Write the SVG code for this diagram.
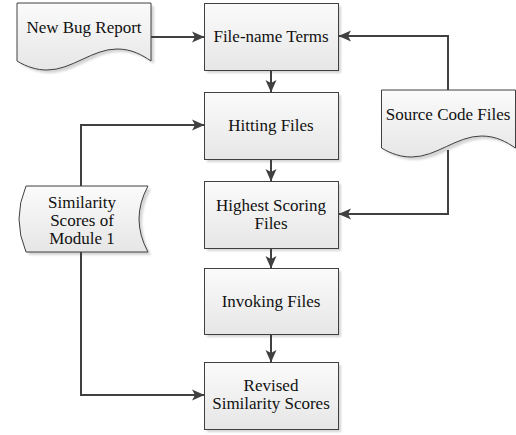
<svg xmlns="http://www.w3.org/2000/svg" xmlns:xlink="http://www.w3.org/1999/xlink" width="516" height="435" viewBox="0 0 516 435">
  <style>
    .shape { fill: url(#fillGrad); stroke: #404040; stroke-width: 1; }
    .shadow { fill: #d4d4d4; stroke: none; filter: url(#soft); }
    .label { fill: #111; text-anchor: middle; }
    .conn { fill: none; stroke: #404040; stroke-width: 2; marker-end: url(#arrow); }
  </style>
  <defs>
    <linearGradient id="fillGrad" x1="0" y1="0" x2="0" y2="1">
      <stop offset="0" stop-color="#fbfbfb"/>
      <stop offset="1" stop-color="#e6e6e6"/>
    </linearGradient>
    <filter id="soft" x="-10%" y="-10%" width="120%" height="120%">
      <feGaussianBlur stdDeviation="0.8"/>
    </filter>
    <marker id="arrow" markerUnits="userSpaceOnUse" markerWidth="13" markerHeight="12" viewBox="0 0 13 12" refX="12" refY="6" orient="auto">
      <path d="M0,0.5 L12.5,6 L0,11.5 L3,6 Z" fill="#404040"/>
    </marker>
    <!-- document outline with a wavy bottom edge, 134 wide -->
    <path id="doc" d="M0,0 H134 V58 C125,52 115,46 100,46 C75,46 55,67 30,67 C20,67 10,64 0,58 Z"/>
    <!-- stored-data outline -->
    <path id="store" d="M26,186 H148 Q130,219 148,252 H26 Q12,219 26,186 Z"/>
  </defs>

  <!-- input documents -->
  <g id="new-bug-report">
    <use xlink:href="#doc" class="shadow" transform="translate(20,6)"/>
    <use xlink:href="#doc" class="shape" transform="translate(17,3)"/>
    <text class="label" x="84" y="33" style="font-family:'Liberation Serif',serif;font-size:17px">New Bug Report</text>
  </g>

  <g id="source-code-files">
    <use xlink:href="#doc" class="shadow" transform="translate(385,93)"/>
    <use xlink:href="#doc" class="shape" transform="translate(381.5,90)"/>
    <text class="label" x="448" y="120" style="font-family:'Liberation Serif',serif;font-size:17px">Source Code Files</text>
  </g>

  <g id="similarity-scores-module-1">
    <use xlink:href="#store" class="shadow" transform="translate(3,3)"/>
    <use xlink:href="#store" class="shape"/>
    <text class="label" x="82" y="208" style="font-family:'Liberation Serif',serif;font-size:17px">Similarity</text>
    <text class="label" x="82" y="226" style="font-family:'Liberation Serif',serif;font-size:17px">Scores of</text>
    <text class="label" x="82" y="244" style="font-family:'Liberation Serif',serif;font-size:17px">Module 1</text>
  </g>

  <!-- processing steps -->
  <g id="file-name-terms">
    <rect class="shadow" x="207" y="6" width="134" height="67"/>
    <rect class="shape" x="204.5" y="3.5" width="134" height="67"/>
    <text class="label" x="271" y="42" style="font-family:'Liberation Serif',serif;font-size:17px">File-name Terms</text>
  </g>

  <g id="hitting-files">
    <rect class="shadow" x="207" y="95" width="134" height="67"/>
    <rect class="shape" x="204.5" y="92.5" width="134" height="67"/>
    <text class="label" x="271" y="131" style="font-family:'Liberation Serif',serif;font-size:17px">Hitting Files</text>
  </g>

  <g id="highest-scoring-files">
    <rect class="shadow" x="207" y="184" width="134" height="67"/>
    <rect class="shape" x="204.5" y="181.5" width="134" height="67"/>
    <text class="label" x="271" y="211" style="font-family:'Liberation Serif',serif;font-size:17px">Highest Scoring</text>
    <text class="label" x="271" y="229" style="font-family:'Liberation Serif',serif;font-size:17px">Files</text>
  </g>

  <g id="invoking-files">
    <rect class="shadow" x="207" y="271" width="134" height="66"/>
    <rect class="shape" x="204.5" y="268.5" width="134" height="66"/>
    <text class="label" x="271" y="307" style="font-family:'Liberation Serif',serif;font-size:17px">Invoking Files</text>
  </g>

  <g id="revised-similarity-scores">
    <rect class="shadow" x="207" y="365" width="134" height="67"/>
    <rect class="shape" x="204.5" y="362.5" width="134" height="67"/>
    <text class="label" x="271" y="391" style="font-family:'Liberation Serif',serif;font-size:17px">Revised</text>
    <text class="label" x="271" y="409" style="font-family:'Liberation Serif',serif;font-size:17px">Similarity Scores</text>
  </g>

  <g id="connectors">
    <path class="conn" d="M151,37 H204"/>
    <path class="conn" d="M271,71 V92"/>
    <path class="conn" d="M271,160 V181"/>
    <path class="conn" d="M271,249 V268"/>
    <path class="conn" d="M271,335 V362"/>
    <path class="conn" d="M448,90 V36 H339"/>
    <path class="conn" d="M448,150 V214 H339"/>
    <path class="conn" d="M81,186 V125 H204"/>
    <path class="conn" d="M81,252 V395 H204"/>
  </g>
</svg>
